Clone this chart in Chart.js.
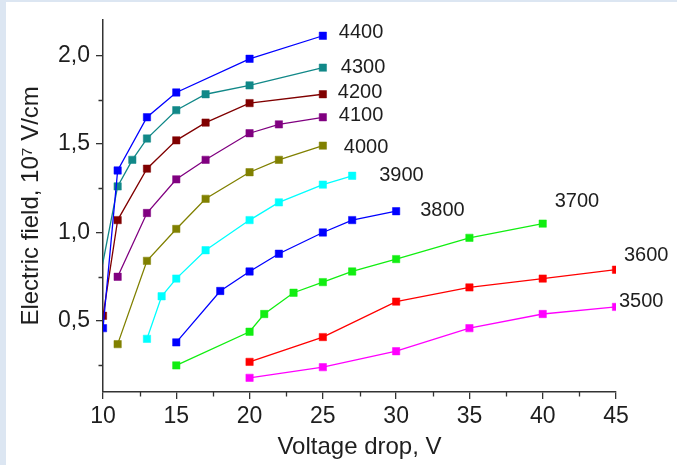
<!DOCTYPE html>
<html>
<head>
<meta charset="utf-8">
<script src="https://cdn.jsdelivr.net/npm/chart.js@4.4.0/dist/chart.umd.min.js"></script>
<style>
html,body{margin:0;padding:0;background:#dce6f2;}
canvas{display:block;}
</style>
</head>
<body>
<canvas id="c" width="677" height="465"></canvas>
<script>
// ---- data ----
const seriesNames = ['4400','4300','4200','4100','4000','3900','3800','3700','3600','3500'];
const x4400 = [10, 11, 13, 15, 20, 25];
const y4400 = [0.46, 1.35, 1.65, 1.79, 1.98, 2.11];
const x4300 = [9.5, 11, 12, 13, 15, 17, 20, 25];
const y4300 = [0.62, 1.26, 1.41, 1.53, 1.69, 1.78, 1.83, 1.93];
const x4200 = [10, 11, 13, 15, 17, 20, 25];
const y4200 = [0.53, 1.07, 1.36, 1.52, 1.62, 1.73, 1.78];
const x4100 = [11, 13, 15, 17, 20, 22, 25];
const y4100 = [0.75, 1.11, 1.30, 1.41, 1.56, 1.61, 1.65];
const x4000 = [11, 13, 15, 17, 20, 22, 25];
const y4000 = [0.37, 0.84, 1.02, 1.19, 1.34, 1.41, 1.49];
const x3900 = [13, 14, 15, 17, 20, 22, 25, 27];
const y3900 = [0.40, 0.64, 0.74, 0.90, 1.07, 1.17, 1.27, 1.32];
const x3800 = [15, 18, 20, 22, 25, 27, 30];
const y3800 = [0.38, 0.67, 0.78, 0.88, 1.00, 1.07, 1.12];
const x3700 = [15, 20, 21, 23, 25, 27, 30, 35, 40];
const y3700 = [0.25, 0.44, 0.54, 0.66, 0.72, 0.78, 0.85, 0.97, 1.05];
const x3600 = [20, 25, 30, 35, 40, 45];
const y3600 = [0.27, 0.41, 0.61, 0.69, 0.74, 0.79];
const x3500 = [20, 25, 30, 35, 40, 45];
const y3500 = [0.18, 0.24, 0.33, 0.46, 0.54, 0.58];

const xTickValues = [10, 15, 20, 25, 30, 35, 40, 45];
const xTickLabels = ['10', '15', '20', '25', '30', '35', '40', '45'];
const xMinorTicks = [12.5, 17.5, 22.5, 27.5, 32.5, 37.5, 42.5];
const yTickValues = [0.5, 1.0, 1.5, 2.0];
const yTickLabels = ['0,5', '1,0', '1,5', '2,0'];
const yMinorTicks = [0.25, 0.75, 1.25, 1.75];

// ---- styles ----
const xs = [x4400, x4300, x4200, x4100, x4000, x3900, x3800, x3700, x3600, x3500];
const ys = [y4400, y4300, y4200, y4100, y4000, y3900, y3800, y3700, y3600, y3500];
const colors = ['#0000ff', '#118888', '#800000', '#800080', '#808000', '#00ffff', '#0000ff', '#11ee11', '#ff0000', '#ff00ff'];
const labelOffsets = [[16, -3], [18, 0], [15, -2], [16, -2], [21, 2], [27, 0], [24, -1], [12, -22], [8, -14], [3, -5]];
const FONT = "'Liberation Sans', Arial, sans-serif";
const INK = '#1e1e1e';

const datasets = seriesNames.map((name, i) => ({
  label: name,
  data: xs[i].map((x, j) => ({ x: x, y: ys[i][j] })),
  borderColor: colors[i],
  backgroundColor: colors[i],
  borderWidth: 1.3,
  pointStyle: 'rect',
  pointRadius: 5.2,
  pointBorderWidth: 0.5,
  pointBorderColor: colors[i],
  pointBackgroundColor: colors[i],
  tension: 0,
  showLine: true
}));

const bgPlugin = {
  id: 'bg',
  beforeDraw(chart) {
    const ctx = chart.ctx;
    ctx.save();
    ctx.fillStyle = '#dce6f2';
    ctx.fillRect(0, 0, chart.width, chart.height);
    ctx.fillStyle = '#ffffff';
    ctx.fillRect(6, 2, chart.width - 6, chart.height - 2);
    ctx.restore();
  }
};

const minorPlugin = {
  id: 'minor',
  afterDraw(chart) {
    const ctx = chart.ctx;
    const xS = chart.scales.x, yS = chart.scales.y;
    const a = chart.chartArea;
    ctx.save();
    ctx.strokeStyle = '#333333';
    ctx.lineWidth = 1.3;
    ctx.beginPath();
    xMinorTicks.forEach(v => {
      const px = Math.round(xS.getPixelForValue(v)) + 0.5;
      ctx.moveTo(px, a.bottom);
      ctx.lineTo(px, a.bottom + 4.5);
    });
    yMinorTicks.forEach(v => {
      const py = Math.round(yS.getPixelForValue(v)) + 0.5;
      ctx.moveTo(a.left, py);
      ctx.lineTo(a.left - 4.5, py);
    });
    ctx.stroke();
    ctx.restore();
  }
};

const labelPlugin = {
  id: 'serieslabels',
  afterDatasetsDraw(chart) {
    const ctx = chart.ctx;
    ctx.save();
    ctx.font = '20px ' + FONT;
    ctx.fillStyle = INK;
    ctx.textAlign = 'left';
    ctx.textBaseline = 'middle';
    chart.data.datasets.forEach((ds, i) => {
      const meta = chart.getDatasetMeta(i);
      const el = meta.data[meta.data.length - 1];
      ctx.fillText(ds.label, el.x + labelOffsets[i][0], el.y + labelOffsets[i][1]);
    });
    ctx.restore();
  }
};

new Chart(document.getElementById('c'), {
  type: 'scatter',
  data: { datasets: datasets },
  plugins: [bgPlugin, minorPlugin, labelPlugin],
  options: {
    responsive: false,
    animation: false,
    devicePixelRatio: 1,
    layout: { padding: { left: 6, top: 15, right: 61, bottom: 0 } },
    plugins: { legend: { display: false }, tooltip: { enabled: false } },
    scales: {
      x: {
        type: 'linear',
        min: 10, max: 45,
        afterBuildTicks: s => { s.ticks = xTickValues.map(v => ({ value: v })); },
        afterFit: s => { s.height = 73; },
        ticks: {
          callback: (v, i) => xTickLabels[i],
          font: { family: FONT, size: 23 },
          color: INK,
          padding: 4,
          maxRotation: 0
        },
        grid: { display: true, drawOnChartArea: false, drawTicks: true, tickLength: 7, color: '#333333', lineWidth: 1.3 },
        border: { display: true, color: '#333333', width: 1.5 },
        title: {
          display: true,
          text: 'Voltage drop, V',
          font: { family: FONT, size: 24 },
          color: INK,
          padding: { top: 0, bottom: 3 }
        }
      },
      y: {
        type: 'linear',
        min: 0.1, max: 2.2,
        afterBuildTicks: s => { s.ticks = yTickValues.map(v => ({ value: v })); },
        afterFit: s => { s.width = 97; },
        ticks: {
          callback: (v, i) => yTickLabels[i],
          font: { family: FONT, size: 23 },
          color: INK,
          padding: 6
        },
        grid: { display: true, drawOnChartArea: false, drawTicks: true, tickLength: 7, color: '#333333', lineWidth: 1.3 },
        border: { display: true, color: '#333333', width: 1.5 },
        title: {
          display: true,
          text: 'Electric field, 10\u2077 V/cm',
          font: { family: FONT, size: 24 },
          color: INK,
          padding: { top: 11, bottom: 0 }
        }
      }
    }
  }
});
</script>
</body>
</html>
